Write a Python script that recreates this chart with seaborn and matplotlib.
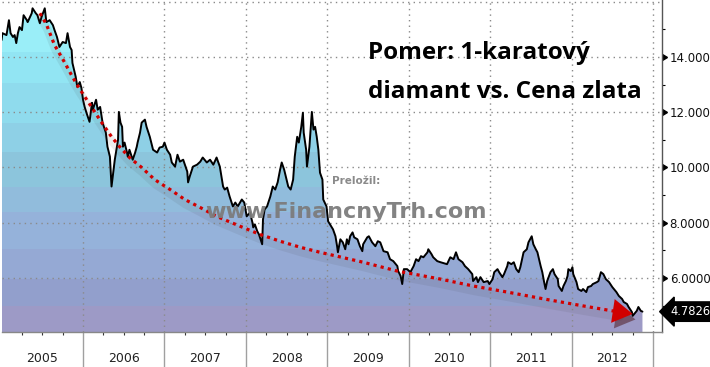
import matplotlib
matplotlib.use("Agg")
import matplotlib.pyplot as plt
import matplotlib.transforms as mtransforms
import matplotlib.patheffects as pe
import seaborn as sns

# ---- data (fractional year, ratio) ----
years = [
    2005.00, 2005.01, 2005.06, 2005.09, 2005.11, 2005.14, 2005.16, 2005.18, 2005.20, 2005.22,
    2005.25, 2005.27, 2005.31, 2005.32, 2005.37, 2005.38, 2005.42, 2005.44, 2005.47, 2005.49,
    2005.53, 2005.55, 2005.59, 2005.63, 2005.65, 2005.68, 2005.71, 2005.75, 2005.79, 2005.81,
    2005.84, 2005.86, 2005.87, 2005.91, 2005.93, 2005.96, 2005.98, 2006.00, 2006.02, 2006.05,
    2006.08, 2006.11, 2006.12, 2006.16, 2006.18, 2006.21, 2006.24, 2006.28, 2006.30, 2006.33,
    2006.35, 2006.37, 2006.39, 2006.41, 2006.43, 2006.44, 2006.46, 2006.48, 2006.49, 2006.51,
    2006.54, 2006.55, 2006.57, 2006.60, 2006.61, 2006.64, 2006.66, 2006.67, 2006.70, 2006.72,
    2006.73, 2006.76, 2006.78, 2006.80, 2006.82, 2006.85, 2006.86, 2006.91, 2006.94, 2006.98,
    2007.00, 2007.03, 2007.07, 2007.09, 2007.13, 2007.16, 2007.19, 2007.23, 2007.28, 2007.29,
    2007.31, 2007.35, 2007.40, 2007.44, 2007.47, 2007.52, 2007.56, 2007.60, 2007.64, 2007.68,
    2007.72, 2007.74, 2007.77, 2007.80, 2007.84, 2007.87, 2007.90, 2007.95, 2007.98, 2008.01,
    2008.05, 2008.08, 2008.09, 2008.11, 2008.14, 2008.16, 2008.20, 2008.21, 2008.23, 2008.26,
    2008.30, 2008.33, 2008.36, 2008.39, 2008.42, 2008.44, 2008.47, 2008.49, 2008.52, 2008.55,
    2008.58, 2008.60, 2008.63, 2008.65, 2008.68, 2008.70, 2008.71, 2008.74, 2008.75, 2008.78,
    2008.81, 2008.83, 2008.85, 2008.87, 2008.89, 2008.91, 2008.94, 2008.95, 2008.99, 2009.01,
    2009.07, 2009.10, 2009.12, 2009.13, 2009.16, 2009.19, 2009.22, 2009.24, 2009.26, 2009.28,
    2009.31, 2009.33, 2009.37, 2009.40, 2009.43, 2009.44, 2009.49, 2009.51, 2009.55, 2009.59,
    2009.62, 2009.65, 2009.69, 2009.74, 2009.77, 2009.81, 2009.86, 2009.87, 2009.90, 2009.92,
    2009.94, 2009.98, 2010.02, 2010.06, 2010.09, 2010.12, 2010.15, 2010.18, 2010.23, 2010.24,
    2010.28, 2010.30, 2010.35, 2010.39, 2010.47, 2010.51, 2010.55, 2010.58, 2010.61, 2010.66,
    2010.69, 2010.73, 2010.78, 2010.79, 2010.83, 2010.85, 2010.88, 2010.92, 2010.97, 2010.99,
    2011.03, 2011.05, 2011.09, 2011.11, 2011.15, 2011.17, 2011.21, 2011.22, 2011.26, 2011.29,
    2011.32, 2011.35, 2011.37, 2011.40, 2011.41, 2011.45, 2011.47, 2011.51, 2011.53, 2011.56,
    2011.58, 2011.62, 2011.64, 2011.66, 2011.68, 2011.70, 2011.74, 2011.77, 2011.79, 2011.83,
    2011.84, 2011.88, 2011.90, 2011.93, 2011.95, 2011.96, 2011.99, 2012.01, 2012.02, 2012.06,
    2012.08, 2012.12, 2012.14, 2012.18, 2012.20, 2012.24, 2012.26, 2012.31, 2012.33, 2012.36,
    2012.39, 2012.42, 2012.46, 2012.50, 2012.52, 2012.55, 2012.58, 2012.62, 2012.64, 2012.68,
    2012.70, 2012.74, 2012.75, 2012.77, 2012.80, 2012.82, 2012.85, 2012.87,
]
ratio = [
    14.61, 14.86, 14.79, 15.33, 14.86, 14.72, 14.79, 14.50, 14.86, 15.08,
    14.97, 15.51, 15.33, 15.26, 15.58, 15.76, 15.58, 15.51, 15.22, 15.44,
    15.76, 15.26, 15.33, 15.15, 14.97, 14.72, 14.36, 14.54, 14.50, 14.86,
    14.36, 14.25, 13.78, 13.28, 12.91, 13.09, 12.88, 12.45, 12.19, 11.91,
    11.65, 12.34, 12.09, 12.45, 12.09, 12.19, 11.62, 11.26, 10.75, 10.39,
    9.31, 9.81, 10.28, 10.64, 11.00, 12.01, 11.62, 11.47, 10.75, 10.90,
    10.54, 10.39, 10.64, 10.36, 10.28, 10.54, 10.75, 10.90, 11.26, 11.62,
    11.65, 11.73, 11.47, 11.29, 11.11, 10.75, 10.64, 10.54, 10.72, 10.75,
    10.90, 10.64, 10.46, 10.18, 10.03, 10.46, 10.21, 10.28, 9.85, 9.46,
    9.67, 10.03, 10.10, 10.21, 10.36, 10.18, 10.28, 10.10, 10.36, 10.03,
    9.31, 9.20, 9.27, 8.95, 8.59, 8.73, 8.59, 8.84, 8.73, 8.23,
    8.37, 8.01, 7.83, 7.94, 7.69, 7.58, 7.22, 8.12, 8.48, 8.59,
    8.95, 9.31, 9.20, 9.46, 9.92, 10.18, 9.92, 9.67, 9.31, 9.20,
    9.56, 10.39, 11.11, 10.90, 11.47, 11.98, 11.26, 10.64, 10.03, 10.75,
    12.01, 11.37, 11.47, 11.11, 10.64, 9.81, 9.56, 8.84, 8.59, 8.05,
    7.76, 7.51, 7.15, 6.93, 7.40, 7.29, 7.04, 7.40, 7.22, 7.51,
    7.65, 7.47, 7.40, 7.15, 6.97, 7.22, 7.47, 7.51, 7.29, 7.15,
    7.33, 7.29, 6.97, 6.93, 6.68, 6.61, 6.43, 6.25, 6.07, 5.78,
    6.32, 6.32, 6.21, 6.43, 6.68, 6.61, 6.79, 6.75, 6.93, 7.04,
    6.86, 6.75, 6.61, 6.57, 6.50, 6.75, 6.68, 6.93, 6.68, 6.57,
    6.43, 6.32, 6.14, 5.89, 6.03, 5.85, 6.03, 5.85, 5.89, 5.78,
    5.96, 6.21, 6.32, 6.21, 6.03, 6.14, 6.43, 6.57, 6.50, 6.57,
    6.32, 6.21, 6.39, 6.79, 6.93, 7.04, 7.29, 7.51, 7.22, 7.04,
    6.93, 6.43, 6.21, 5.89, 5.60, 5.89, 6.21, 6.32, 6.14, 5.96,
    5.71, 5.53, 5.71, 5.89, 6.07, 6.32, 6.25, 6.39, 6.14, 5.85,
    5.60, 5.53, 5.60, 5.49, 5.67, 5.71, 5.78, 5.85, 5.89, 6.21,
    6.14, 5.96, 5.85, 5.67, 5.60, 5.49, 5.35, 5.24, 5.13, 5.06,
    4.95, 4.77, 4.63, 4.70, 4.81, 4.95, 4.81, 4.7826,
]

# hand-drawn trend (red dotted arrow)
trend_years = [2005.47, 2005.55, 2005.65, 2005.77, 2005.87, 2005.95, 2006.03, 2006.11,
               2006.23, 2006.35, 2006.45, 2006.57, 2006.72, 2006.88, 2007.07, 2007.25,
               2007.44, 2007.64, 2007.93, 2008.17, 2008.42, 2008.67, 2008.91, 2009.44,
               2009.86, 2010.39, 2010.79, 2011.21, 2011.70, 2012.14, 2012.50, 2012.58]
trend_values = [15.58, 15.18, 14.43, 13.82, 13.28, 12.88, 12.52, 12.16,
                11.62, 11.11, 10.75, 10.36, 10.00, 9.56, 9.20, 8.84,
                8.55, 8.23, 7.87, 7.58, 7.33, 7.11, 6.93, 6.57,
                6.25, 5.96, 5.71, 5.49, 5.22, 4.99, 4.81, 4.78]
arrow_tip = (2012.75, 4.70)

last_value = 4.7826
year_labels = ["2005", "2006", "2007", "2008", "2009", "2010", "2011", "2012"]
y_ticks = [6, 8, 10, 12, 14]
y_tick_labels = ["6.0000", "8.0000", "10.0000", "12.0000", "14.0000"]

# stepped background gradient under the curve
band_edges = [16.06, 14.18, 13.06, 11.62, 10.57, 9.31, 8.37, 7.04, 5.96, 4.99, 4.0]
band_colors = ["#9aeef8", "#92e5f3", "#8fdbed", "#8ed0e6", "#8cc5dc",
               "#91bcdc", "#95b2da", "#95a9d4", "#929fcc", "#9d9ac6"]

sns.set_theme(style="white")
plt.rcParams["font.family"] = ["DejaVu Sans"]

fig = plt.figure(figsize=(7.1, 3.67), dpi=100)
ax = fig.add_axes([1.6 / 710, 35 / 367, 660.4 / 710, 332 / 367])
ax.set_xlim(2005.0, 2013.11)
ax.set_ylim(4.045, 16.06)

# area fill: invisible polygon used as a clip path for the colour bands
poly = ax.fill_between(years, ratio, 4.0, facecolor="none", edgecolor="none")
clip = poly.get_paths()[0]
for top, bot, c in zip(band_edges[:-1], band_edges[1:], band_colors):
    band = ax.axhspan(bot, top, color=c, lw=0, zorder=1)
    band.set_clip_path(clip, ax.transData)

sns.lineplot(x=years, y=ratio, sort=False, color="black", lw=1.4, ax=ax, zorder=3)

# soft shadow + red dotted trend
shadow_tr = mtransforms.offset_copy(ax.transData, fig=fig, x=1, y=-5, units="dots")
ax.plot(trend_years, trend_values, color="#404040", alpha=0.09, lw=6,
        solid_capstyle="round", transform=shadow_tr, zorder=3.5)
sns.lineplot(x=trend_years, y=trend_values, sort=False, color="#d20000", lw=2.3,
             dashes=False, ax=ax, zorder=4)
ax.lines[-1].set_linestyle((0, (1, 1.3)))
arr = ax.annotate("", xy=arrow_tip, xytext=(trend_years[-2], trend_values[-2]),
                  arrowprops=dict(arrowstyle="-|>,head_length=0.45,head_width=0.27",
                                  color="#d00000", lw=0, mutation_scale=32,
                                  shrinkA=0, shrinkB=0), zorder=5)
arr.arrow_patch.set_path_effects([pe.SimplePatchShadow(offset=(2, -4), alpha=0.45), pe.Normal()])

# grid
ax.set_axisbelow("line")
ax.set_xticks(range(2006, 2014))
ax.set_xticks([y + q for y in range(2005, 2013) for q in (0.25, 0.5, 0.75)], minor=True)
ax.grid(True, which="major", color="#8a8a8a", lw=1, linestyle=(0, (1, 3)))
ax.grid(False, which="minor")
ax.axhline(16.0, color="#8a8a8a", lw=1, linestyle=(0, (1, 3)), zorder=1.5)

# x axis: long grey separators between years, small quarter ticks
ax.tick_params(axis="x", which="major", direction="out", length=25, width=1,
               color="#a0a0a0", labelbottom=False, bottom=True)
ax.tick_params(axis="x", which="minor", direction="out", length=2.5, width=0.8,
               color="#333333", bottom=True)
lbl_tr = mtransforms.blended_transform_factory(ax.transData, fig.transFigure)
for i, lab in enumerate(year_labels):
    ax.text(2005.5 + i, 8.5 / 367, lab, transform=lbl_tr, ha="center", va="center",
            fontsize=9, color="#222222")

# y axis on the right
ax.yaxis.tick_right()
ax.set_yticks(y_ticks)
ax.set_yticklabels(y_tick_labels)
ax.set_yticks([5, 7, 9, 11, 13, 15], minor=True)
ax.tick_params(axis="y", which="major", right=True, left=False, direction="out",
               length=4.5, width=1, color="black", pad=1, labelsize=8.5, labelcolor="#111111")
ax.tick_params(axis="y", which="minor", right=True, left=False, direction="out",
               length=2, width=0.8, color="black")
for t in ax.yaxis.get_major_ticks():
    t.tick2line.set_marker(9)

for s in ["left", "top"]:
    ax.spines[s].set_visible(False)
ax.spines["right"].set_color("#555555")
ax.spines["bottom"].set_color("#888888")
ax.spines["right"].set_linewidth(1)
ax.spines["bottom"].set_linewidth(1)

# last value tag
val_tr = mtransforms.blended_transform_factory(ax.transAxes, ax.transData)
ax.text(1.0125, last_value, f"{last_value:.4f}", transform=val_tr, ha="left", va="center",
        fontsize=8.3, color="white", clip_on=False,
        bbox=dict(boxstyle="larrow,pad=0.28", fc="black", ec="black"))

# title (two lines) and watermark
title_font = dict(family=["Open Sans", "DejaVu Sans"], fontweight="bold", fontsize=17.5,
                  ha="left", va="baseline", color="black")
fig.text(368 / 710, 1 - 59 / 367, "Pomer: 1-karatový", **title_font)
fig.text(368 / 710, 1 - 98 / 367, "diamant vs. Cena zlata", **title_font)
fig.text(332 / 710, 1 - 181 / 367, "Preložil:", fontsize=7.5, fontweight="bold",
         color="#8a8a8a", ha="left", va="center")
fig.text(346 / 710, 1 - 212 / 367, "www.FinancnyTrh.com", fontsize=16, fontweight="bold",
         color="#7c7c7c", ha="center", va="center", alpha=0.95, zorder=10)

fig.savefig("out.png", dpi=100)
